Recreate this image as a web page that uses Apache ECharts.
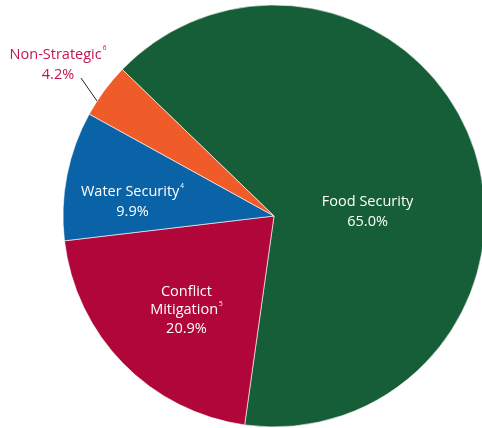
<!DOCTYPE html>
<html>
<head>
<meta charset="utf-8">
<script src="https://cdn.jsdelivr.net/npm/echarts@6/dist/echarts.min.js"></script>
<style>
  html, body { margin: 0; padding: 0; background: #fff; }
  #chart { width: 482px; height: 428px; }
</style>
</head>
<body>
<div id="chart"></div>
<script>
// Portfolio share by category (percent)
const categories = ['Food Security', 'Conflict Mitigation', 'Water Security', 'Non-Strategic'];
const footnotes = ['', '5', '4', '6'];
const shares = [65.0, 20.9, 9.9, 4.2];
const colors = ['#155e37', '#b0063a', '#0a63a6', '#ef5b29'];

// Pie geometry
const CX = 274, CY = 216, R = 211;

// Per-slice label nudges from the default inside position
const labelShift = [[-9, 31], [-10, 18], [-35, 7], [0, 0]];

const FONT = '"Open Sans", "Noto Sans", sans-serif';

function labelText(i) {
  const name = categories[i];
  const pct = shares[i].toFixed(1) + '%';
  const sup = footnotes[i] ? '{s|' + footnotes[i] + '}' : '';
  if (name === 'Conflict Mitigation') {
    return '{t|Conflict}\n{t|Mitigation}' + sup + '\n{t|' + pct + '}';
  }
  return '{t|' + name + '}' + sup + '\n{t|' + pct + '}';
}

const richFor = (color, lh) => ({
  t: { color: color, fontSize: 14.5, fontFamily: FONT, lineHeight: lh },
  s: { color: color, fontSize: 6.5, fontFamily: FONT, lineHeight: lh, verticalAlign: 'top', padding: [0, 0, 8, 1] }
});

const data = categories.map((name, i) => {
  const item = { name: name, value: shares[i], itemStyle: { color: colors[i] } };
  if (name === 'Non-Strategic') {
    item.label = {
      show: true,
      position: 'outside',
      formatter: () => labelText(i),
      align: 'center',
      rich: richFor('#c4164c', 20)
    };
    item.labelLine = { show: true, length: 24, length2: 0, lineStyle: { color: '#222', width: 1 } };
  } else {
    item.label = {
      show: true,
      position: 'inside',
      formatter: () => labelText(i),
      align: 'center',
      rich: richFor('#ffffff', name === 'Conflict Mitigation' ? 18.5 : 20)
    };
    item.labelLine = { show: false };
  }
  return item;
});

// Leader for the small slice: starts on the rim, runs up-left toward its label
function leaderPoints() {
  const a = 147 * Math.PI / 180;
  const start = [CX + R * Math.cos(a), CY - R * Math.sin(a)];
  const d = 124.8 * Math.PI / 180, len = 28;
  const end = [start[0] + len * Math.cos(d), start[1] - len * Math.sin(d)];
  return [start, end];
}

const chart = echarts.init(document.getElementById('chart'), null, { renderer: 'canvas' });
chart.setOption({
  animation: false,
  backgroundColor: '#ffffff',
  series: [{
    type: 'pie',
    center: [CX, CY],
    radius: [0, R],
    startAngle: 136,
    clockwise: true,
    avoidLabelOverlap: false,
    itemStyle: { borderColor: '#ffffff', borderWidth: 0.6 },
    emphasis: { disabled: true },
    data: data,
    labelLayout: function (params) {
      if (params.dataIndex === 3) {
        return { x: 58, y: 65, align: 'center', verticalAlign: 'middle', labelLinePoints: leaderPoints() };
      }
      const s = labelShift[params.dataIndex];
      return { dx: s[0], dy: s[1] };
    }
  }]
});
</script>
</body>
</html>
